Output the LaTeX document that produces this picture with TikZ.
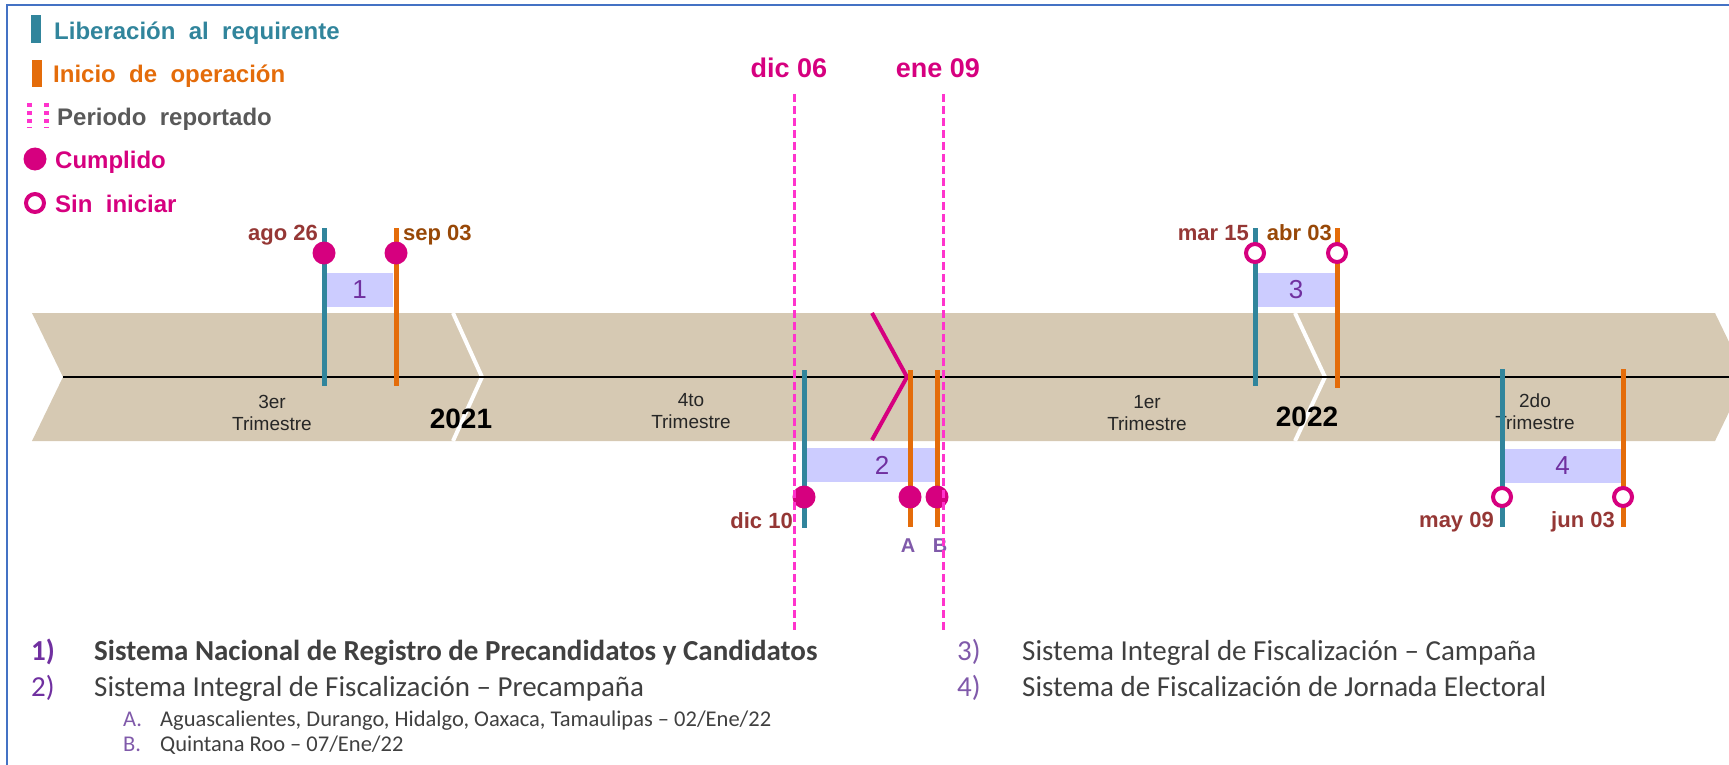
\documentclass[tikz,border=0pt]{standalone}
\usepackage{fontspec}
\setmainfont{Liberation Sans}
\newfontfamily\calibri{Carlito}
\usepackage{tikz}
\usetikzlibrary{positioning}
\usepackage{xcolor}
\definecolor{azul}{RGB}{49,133,156}
\definecolor{naranja}{RGB}{228,108,10}
\definecolor{fucsia}{RGB}{214,0,127}
\definecolor{rosa}{RGB}{255,51,204}
\definecolor{arena}{RGB}{214,201,179}
\definecolor{lila}{RGB}{204,204,255}
\definecolor{morado}{RGB}{112,48,160}
\definecolor{moradoclaro}{RGB}{128,90,170}
\definecolor{vino}{RGB}{149,55,53}
\definecolor{cafe}{RGB}{152,72,7}
\definecolor{gris}{RGB}{89,89,89}
\definecolor{texto}{RGB}{64,64,64}
\definecolor{marco}{RGB}{68,114,196}
\newcommand{\tam}[1]{\fontsize{#1}{#1}\selectfont}

\begin{document}
\begin{tikzpicture}[x=1pt, y=-1pt,
    liber/.style={azul, line width=5pt},
    inicio/.style={naranja, line width=5pt},
    hecho/.style={circle, fill=fucsia, minimum size=23pt, inner sep=0pt},
    pend/.style={circle, draw=fucsia, line width=4pt, fill=white, minimum size=18pt, inner sep=0pt},
    caja/.style={fill=lila, text=morado, font=\tam{26}, inner sep=0pt, minimum height=34pt},
    fecha/.style={font=\bfseries\tam{22}, inner sep=0pt, text=vino},
    trim/.style={font=\tam{19}, align=center, inner sep=0pt, text=black!85},
    anio/.style={font=\bfseries\tam{28}, inner sep=0pt},
    periodo/.style={rosa, line width=3pt, dash pattern=on 8pt off 4pt},
    leyenda/.style={font=\bfseries\tam{24}, anchor=base west, inner sep=0pt},
    lista/.style={font=\calibri\tam{29}, anchor=base west, inner sep=0pt, text=texto}]
    \useasboundingbox (0,0) rectangle (1729,765);
    \clip (0,0) rectangle (1729,765);

    % marco
    \draw[marco, line width=2pt] (7,765) -- (7,5) -- (1729,5);

    % leyenda
    \fill[azul] (31,15) rectangle (41,43);
    \node[leyenda, text=azul] (lg1) at (54,40) {Liberación\ \ al\ \ requirente};
    \fill[naranja] (32,60) rectangle (42,87);
    \node[leyenda, text=naranja] (lg2) at (53,83) {Inicio\ \ de\ \ operación};
    \draw[rosa, line width=5pt, dash pattern=on 4pt off 4pt] (29.5,103) -- (29.5,128);
    \draw[rosa, line width=5pt, dash pattern=on 4pt off 4pt] (46.5,103) -- (46.5,128);
    \node[leyenda, text=gris] (lg3) at (57,125) {Periodo\ \ reportado};
    \node[hecho] (lg4c) at (35,159) {};
    \node[leyenda, text=fucsia] (lg4) at (55,168) {Cumplido};
    \node[pend] (lg5c) at (35,203) {};
    \node[leyenda, text=fucsia] (lg5) at (55,212) {Sin\ \ iniciar};

    % banda de tiempo
    \fill[arena] (32,313) -- (1715,313) -- (1746,377) -- (1715,441) -- (32,441) -- (63,377) -- cycle;
    \draw[white, line width=4pt] (453,313) -- (482,377) -- (453,441);
    \draw[white, line width=4pt] (1295,313) -- (1325,377) -- (1295,441);
    \draw[black, line width=2pt] (63,377) -- (1729,377);
    \draw[fucsia, line width=4pt] (872,313) -- (907,377) -- (872,440);

    \node[trim] (t3) at (272,413) {3er\\[3pt]Trimestre};
    \node[trim] (t4) at (691,411) {4to\\[3pt]Trimestre};
    \node[trim] (t1) at (1147,413) {1er\\[3pt]Trimestre};
    \node[trim] (t2) at (1535,412) {2do\\[3pt]Trimestre};
    \node[anio] (a21) at (461,419) {2021};
    \node[anio] (a22) at (1307,417) {2022};

    % cajas
    \node[caja, minimum width=67pt] (k1) at (359.5,290) {1};
    \node[caja, minimum width=131pt] (k2) at (871.5,465) {};
    \node[caja, fill=none] (k2n) at (882,465) {2};
    \node[caja, minimum width=78pt] (k3) at (1296,290) {3};
    \node[caja, minimum width=117pt] (k4) at (1562.5,465.5) {4};

    % hitos
    \coordinate (h1a) at (324,228); \coordinate (h1b) at (324,386);
    \coordinate (h2a) at (396,228); \coordinate (h2b) at (396,386);
    \coordinate (h3a) at (804,370); \coordinate (h3b) at (804,528);
    \coordinate (h4a) at (910,370); \coordinate (h4b) at (910,527);
    \coordinate (h5a) at (937,370); \coordinate (h5b) at (937,527);
    \coordinate (h6a) at (1255,228); \coordinate (h6b) at (1255,386);
    \coordinate (h7a) at (1337,228); \coordinate (h7b) at (1337,388);
    \coordinate (h8a) at (1502,369); \coordinate (h8b) at (1502,527);
    \coordinate (h9a) at (1623,369); \coordinate (h9b) at (1623,527);
    \draw[liber] (h1a) -- (h1b);
    \draw[inicio] (h2a) -- (h2b);
    \draw[liber] (h3a) -- (h3b);
    \draw[inicio] (h4a) -- (h4b);
    \draw[inicio] (h5a) -- (h5b);
    \draw[liber] (h6a) -- (h6b);
    \draw[inicio] (h7a) -- (h7b);
    \draw[liber] (h8a) -- (h8b);
    \draw[inicio] (h9a) -- (h9b);

    \node[hecho] (c1) at (324,253) {};
    \node[hecho] (c2) at (396,253) {};
    \node[hecho] (c3) at (804,497) {};
    \node[hecho] (c4) at (910,497) {};
    \node[hecho] (c5) at (937,497) {};
    \node[pend] (c6) at (1255,253) {};
    \node[pend] (c7) at (1337,253) {};
    \node[pend] (c8) at (1502,497) {};
    \node[pend] (c9) at (1623,497) {};

    % fechas
    \node[fecha, anchor=base east] (f1) at (318,240) {ago 26};
    \node[fecha, anchor=base west, text=cafe] (f2) at (403,240) {sep 03};
    \node[fecha, anchor=base east] (f3) at (793,528) {dic 10};
    \node[fecha, anchor=base, text=moradoclaro, font=\bfseries\tam{20}] (fA) at (908,552) {A};
    \node[fecha, anchor=base, text=moradoclaro, font=\bfseries\tam{20}] (fB) at (940,552) {B};
    \node[fecha, anchor=base east] (f6) at (1249,240) {mar 15};
    \node[fecha, anchor=base east, text=cafe] (f7) at (1332,240) {abr 03};
    \node[fecha, anchor=base east] (f8) at (1494,527) {may 09};
    \node[fecha, anchor=base east] (f9) at (1615,527) {jun 03};

    % periodo reportado
    \coordinate (p1a) at (794,94); \coordinate (p1b) at (794,632);
    \coordinate (p2a) at (943,94); \coordinate (p2b) at (943,632);
    \draw[periodo] (p1a) -- (p1b);
    \draw[periodo] (p2a) -- (p2b);
    \node[fecha, anchor=base, text=fucsia, font=\bfseries\tam{27}] (d1) at (789,78) {dic 06};
    \node[fecha, anchor=base, text=fucsia, font=\bfseries\tam{27}] (d2) at (938,78) {ene 09};

    % sistemas
    \node[lista, text=morado, font=\calibri\bfseries\tam{29}] (n1) at (31,660) {1)};
    \node[lista, font=\calibri\bfseries\tam{29}] (s1) at (94,660) {Sistema Nacional de Registro de Precandidatos y Candidatos};
    \node[lista, text=morado] (n2) at (31,696) {2)};
    \node[lista] (s2) at (94,696) {Sistema Integral de Fiscalización – Precampaña};
    \node[lista, text=moradoclaro, font=\calibri\tam{22.5}] (nA) at (123,726) {A.};
    \node[lista, font=\calibri\tam{22.5}] (sA) at (160,726) {Aguascalientes, Durango, Hidalgo, Oaxaca, Tamaulipas – 02/Ene/22};
    \node[lista, text=moradoclaro, font=\calibri\tam{22.5}] (nB) at (123,751) {B.};
    \node[lista, font=\calibri\tam{22.5}] (sB) at (160,751) {Quintana Roo – 07/Ene/22};
    \node[lista, text=moradoclaro] (n3) at (957,660) {3)};
    \node[lista] (s3) at (1022,660) {Sistema Integral de Fiscalización – Campaña};
    \node[lista, text=moradoclaro] (n4) at (957,696) {4)};
    \node[lista] (s4) at (1022,696) {Sistema de Fiscalización de Jornada Electoral};
\end{tikzpicture}
\end{document}
